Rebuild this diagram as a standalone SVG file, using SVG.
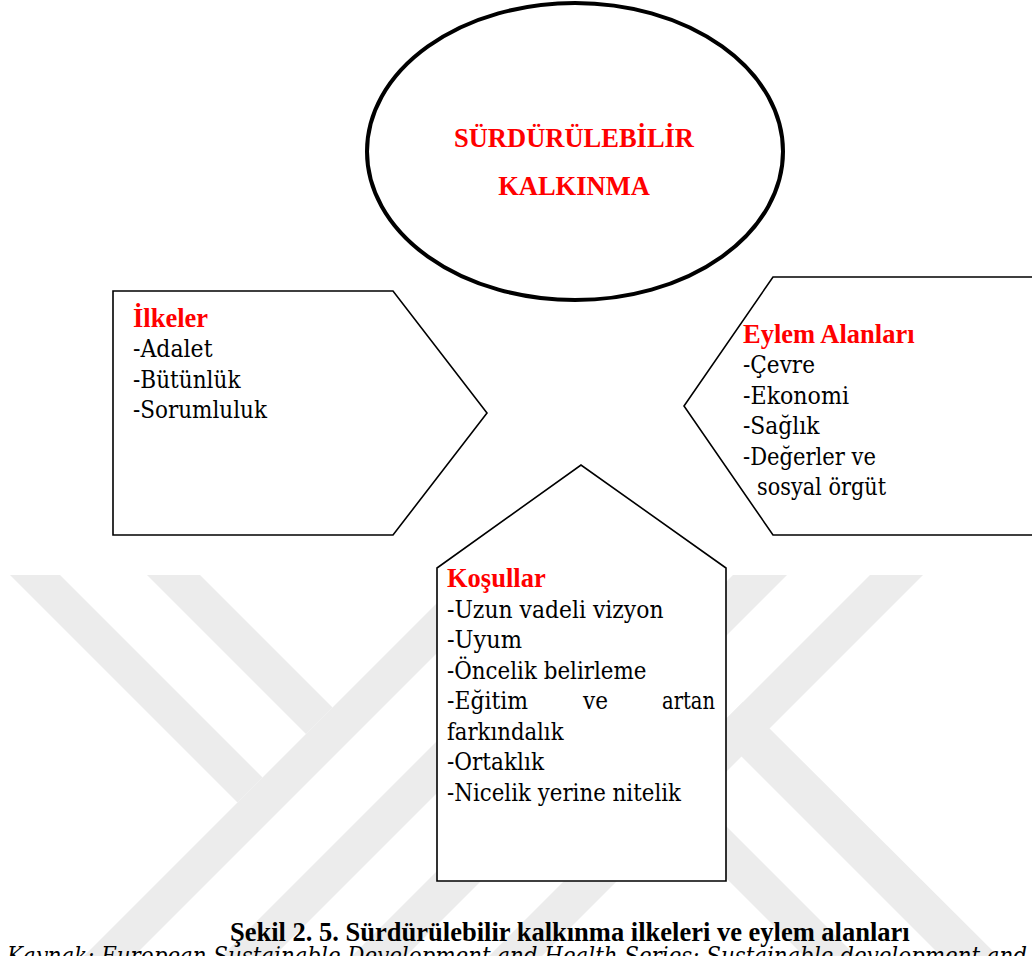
<svg xmlns="http://www.w3.org/2000/svg" width="1032" height="956" viewBox="0 0 1032 956">
  <defs>
    <clipPath id="wm-clip">
      <rect x="0" y="575" width="1032" height="381"/>
    </clipPath>
    <style>
      .wm { fill: #ececec; }
      .shape { fill: #ffffff; stroke: #000000; stroke-width: 1.6; stroke-linejoin: miter; }
      .oval { fill: #ffffff; stroke: #000000; stroke-width: 4; }
      .txt { font-family: "Liberation Serif", "Times New Roman", serif; font-size: 26.5px; fill: #000000; }
      .head { font-weight: bold; fill: #ff0000; }
      .caption { font-weight: bold; }
      .reg { font-family: "DejaVu Serif", "Liberation Serif", serif; font-size: 23.5px; }
      .source { font-style: italic; }
    </style>
  </defs>

  <rect x="0" y="0" width="1032" height="956" fill="#ffffff"/>

  <!-- faint background mark -->
  <g id="background-mark" clip-path="url(#wm-clip)">
    <polygon class="wm" points="10,575 60,575 262.5,777.5 237.5,802.5"/>
    <polygon class="wm" points="147,575 200,575 332.5,707.5 306,734"/>
    <polygon class="wm" points="465,575 515,575 120,970 70,970"/>
    <polygon class="wm" points="603,575 655,575 260,970 208,970"/>
    <polygon class="wm" points="733,575 787,575 392,970 338,970"/>
    <polygon class="wm" points="870,575 923,575 528,970 475,970"/>
    <polygon class="wm" points="604,704 870,970 818,970 578,730"/>
    <polygon class="wm" points="743,702 1012,970 955,970 715,730"/>
  </g>

  <g id="connectors"/>

  <!-- central ellipse -->
  <g id="node-center">
    <ellipse class="oval" cx="575" cy="151.5" rx="208" ry="148.5"/>
    <text class="txt head" x="574" y="147" text-anchor="middle">SÜRDÜRÜLEBİLİR</text>
    <text class="txt head" x="574" y="194.5" text-anchor="middle">KALKINMA</text>
  </g>

  <!-- principles -->
  <g id="node-ilkeler">
    <polygon class="shape" points="113,291 393,291 487,413 393,535 113,535"/>
    <text class="txt head" x="133" y="326.5">İlkeler</text>
    <text class="txt reg" x="133" y="357" textLength="79.5" lengthAdjust="spacingAndGlyphs">-Adalet</text>
    <text class="txt reg" x="133" y="387.5" textLength="107.5" lengthAdjust="spacingAndGlyphs">-Bütünlük</text>
    <text class="txt reg" x="133" y="418" textLength="134" lengthAdjust="spacingAndGlyphs">-Sorumluluk</text>
  </g>

  <!-- fields of action -->
  <g id="node-eylem">
    <polygon class="shape" points="773,277 1040,277 1040,535 773,535 684,406"/>
    <text class="txt head" x="743" y="342.5">Eylem Alanları</text>
    <text class="txt reg" x="743" y="373" textLength="72" lengthAdjust="spacingAndGlyphs">-Çevre</text>
    <text class="txt reg" x="743" y="403.5" textLength="106" lengthAdjust="spacingAndGlyphs">-Ekonomi</text>
    <text class="txt reg" x="743" y="434" textLength="76.5" lengthAdjust="spacingAndGlyphs">-Sağlık</text>
    <text class="txt reg" x="743" y="464.5" textLength="133" lengthAdjust="spacingAndGlyphs">-Değerler ve</text>
    <text class="txt reg" x="757" y="495" textLength="129" lengthAdjust="spacingAndGlyphs">sosyal örgüt</text>
  </g>

  <!-- conditions -->
  <g id="node-kosullar">
    <polygon class="shape" points="437,568 581,465 726,568 726,881 437,881"/>
    <text class="txt head" x="447" y="587">Koşullar</text>
    <text class="txt reg" x="447" y="617.5" textLength="216.5" lengthAdjust="spacingAndGlyphs">-Uzun vadeli vizyon</text>
    <text class="txt reg" x="447" y="648" textLength="75" lengthAdjust="spacingAndGlyphs">-Uyum</text>
    <text class="txt reg" x="447" y="678.5" textLength="199.5" lengthAdjust="spacingAndGlyphs">-Öncelik belirleme</text>
    <text class="txt reg" x="447" y="709" textLength="81" lengthAdjust="spacingAndGlyphs">-Eğitim</text>
    <text class="txt reg" x="583" y="709" textLength="25" lengthAdjust="spacingAndGlyphs">ve</text>
    <text class="txt reg" x="662" y="709" textLength="53" lengthAdjust="spacingAndGlyphs">artan</text>
    <text class="txt reg" x="447" y="739.5" textLength="116.5" lengthAdjust="spacingAndGlyphs">farkındalık</text>
    <text class="txt reg" x="447" y="770" textLength="97" lengthAdjust="spacingAndGlyphs">-Ortaklık</text>
    <text class="txt reg" x="447" y="800.5" textLength="234" lengthAdjust="spacingAndGlyphs">-Nicelik yerine nitelik</text>
  </g>

  <!-- caption and source line -->
  <g id="caption">
    <text class="txt caption" x="230" y="941">Şekil 2. 5. Sürdürülebilir kalkınma ilkeleri ve eylem alanları</text>
    <text class="txt reg source" x="7" y="964" textLength="1020" lengthAdjust="spacingAndGlyphs">Kaynak: European Sustainable Development and Health Series: Sustainable development and</text>
  </g>
</svg>
